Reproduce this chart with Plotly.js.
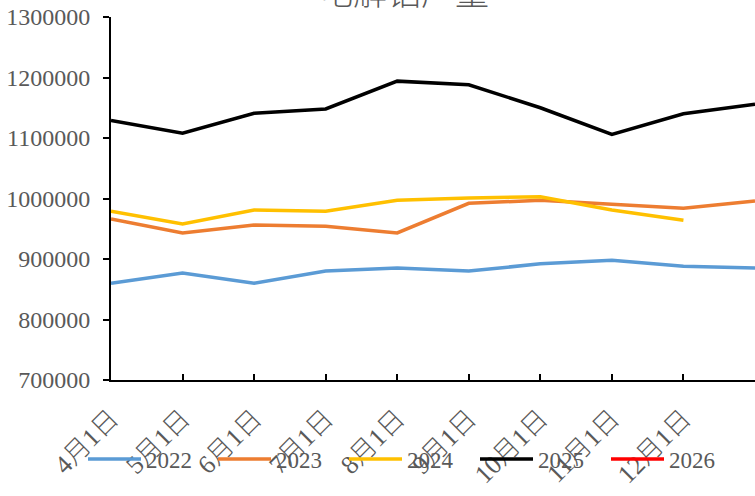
<!DOCTYPE html>
<html>
<head>
<meta charset="utf-8">
<script src="https://cdn.plot.ly/plotly-3.0.1.min.js"></script>
<style>html,body{margin:0;padding:0;background:#fff;}#chart{width:755px;height:496px;}</style>
</head>
<body>
<div id="chart"></div>
<script>
const categories = ["4月1日","5月1日","6月1日","7月1日","8月1日","9月1日","10月1日","11月1日","12月1日","1月1日"];
const shownTicks = ["4月1日","5月1日","6月1日","7月1日","8月1日","9月1日","10月1日","11月1日","12月1日"];
const s2022 = [860000, 877000, 860000, 880000, 885000, 880000, 892000, 898000, 888000, 885000];
const s2023 = [966000, 943000, 956000, 954000, 943000, 992000, 997000, 991000, 984000, 996000];
const s2024 = [979000, 958000, 981000, 979000, 997000, 1001000, 1003000, 981000, 964000, null];
const s2025 = [1129000, 1108000, 1141000, 1148000, 1194000, 1188000, 1150000, 1106000, 1140000, 1156000];
const s2026 = [null, null, null, null, null, null, null, null, null, null];
const seriesNames = ["2022","2023","2024","2025","2026"];
const colors = ["#5B9BD5","#ED7D31","#FFC000","#000000","#FF0000"];
const yTicks = [700000, 800000, 900000, 1000000, 1100000, 1200000, 1300000];
const chartTitle = "电解铝产量";

const fontFam = "'Liberation Serif', 'Noto Sans CJK SC', serif";
const legendStarts = [89, 219, 350, 481, 612]; // px where each legend line begins
const allSeries = [s2022, s2023, s2024, s2025, s2026];
const traces = allSeries.map((s, i) => ({
  type: "scatter", mode: "lines", name: seriesNames[i],
  x: categories, y: s,
  line: {color: colors[i], width: 3.5},
  connectgaps: false, hoverinfo: "skip",
  legend: i === 0 ? "legend" : "legend" + (i + 1)
}));

const layout = {
  width: 755, height: 496,
  margin: {l: 111, r: 0, t: 17, b: 116, pad: 0},
  paper_bgcolor: "#fff", plot_bgcolor: "#fff",
  annotations: [{text: chartTitle, xref: "paper", yref: "paper", x: (404 - 111) / 644, y: 1 + 27 / 363,
                 xanchor: "center", yanchor: "middle", showarrow: false,
                 font: {family: "'Noto Sans CJK SC', sans-serif", size: 34, color: "#595959", weight: 300}}],
  showlegend: true,
  xaxis: {type: "category", range: [0, 9], tickvals: shownTicks, ticktext: shownTicks,
          tickangle: -45, showgrid: false, zeroline: false,
          showline: true, linecolor: "#000", linewidth: 2,
          ticks: "inside", ticklen: 6, tickwidth: 2, tickcolor: "#000", ticklabelstandoff: 11,
          tickfont: {family: fontFam, size: 26, color: "#595959", weight: 300}, automargin: false},
  yaxis: {range: [700000, 1300000], tickvals: yTicks, ticktext: yTicks.map(String),
          showgrid: false, zeroline: false, showline: true, linecolor: "#000", linewidth: 2,
          ticks: "outside", ticklen: 6, tickwidth: 2, tickcolor: "#000", ticklabelstandoff: 8,
          tickfont: {family: fontFam, size: 24, color: "#595959"}, automargin: false}
};
legendStarts.forEach((px, i) => {
  const key = i === 0 ? "legend" : "legend" + (i + 1);
  layout[key] = {orientation: "h", xref: "container", yref: "container", x: (px - 6) / 755, xanchor: "left",
                 y: 1 - 459/496, yanchor: "middle", font: {family: fontFam, size: 23, color: "#595959"},
                 bgcolor: "rgba(0,0,0,0)", itemwidth: 53};
});
Plotly.newPlot("chart", traces, layout, {displayModeBar: false, staticPlot: true});
</script>
</body>
</html>
